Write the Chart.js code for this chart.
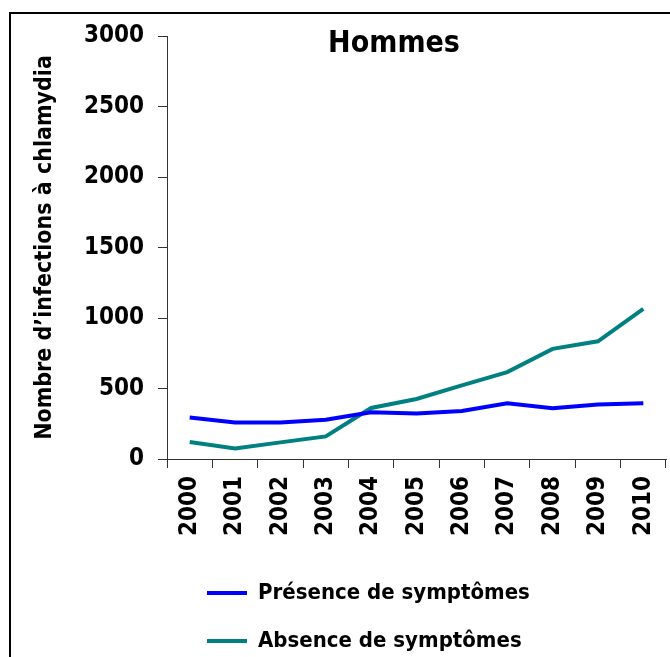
<!DOCTYPE html>
<html>
<head>
<meta charset="utf-8">
<script src="https://cdn.jsdelivr.net/npm/chart.js@4/dist/chart.umd.min.js"></script>
<style>
  html, body { margin: 0; padding: 0; background: #fff; }
  #wrap { width: 670px; height: 657px; }
</style>
</head>
<body>
<div id="wrap"><canvas id="chart" width="670" height="657"></canvas></div>
<script>
// Données
const years = ['2000', '2001', '2002', '2003', '2004', '2005', '2006', '2007', '2008', '2009', '2010'];
const presence = [294, 259, 259, 278, 332, 322, 341, 395, 360, 386, 395];
const absence = [120, 75, 118, 160, 362, 426, 522, 616, 781, 835, 1064];
const seriesNames = ['Présence de symptômes', 'Absence de symptômes'];
const seriesColors = ['#0000ff', '#008080'];
const chartTitle = 'Hommes';
const yTitle = 'Nombre d’infections à chlamydia';
const yMax = 3000;
const yStep = 500;

const FONT = "'DejaVu Sans Condensed', 'Liberation Sans Narrow', sans-serif";

// cadre noir + placement du titre et de la légende
const framePlugin = {
    id: 'frame',
    afterLayout(chart) {
        chart.titleBlock.left = 122;
        chart.legend.left = 181;
        chart.legend.top = 556;
    },
    afterDraw(chart) {
        const ctx = chart.ctx;
        ctx.save();
        ctx.strokeStyle = '#000';
        ctx.lineWidth = 2;
        ctx.beginPath();
        ctx.moveTo(10, 657);
        ctx.lineTo(10, 13);
        ctx.lineTo(670, 13);
        ctx.stroke();
        ctx.restore();
    }
};

const ctx = document.getElementById('chart').getContext('2d');
new Chart(ctx, {
    type: 'line',
    data: {
        labels: years,
        datasets: [
            { label: seriesNames[0], data: presence, borderColor: seriesColors[0], backgroundColor: seriesColors[0], borderWidth: 4 },
            { label: seriesNames[1], data: absence, borderColor: seriesColors[1], backgroundColor: seriesColors[1], borderWidth: 4 }
        ]
    },
    options: {
        responsive: false,
        animation: false,
        devicePixelRatio: 1,
        elements: {
            line: { tension: 0 },
            point: { radius: 0 }
        },
        layout: { padding: { left: 10, right: 4, top: 0, bottom: 0 } },
        scales: {
            x: {
                offset: true,
                grid: { offset: true, drawOnChartArea: false, drawTicks: true, tickLength: 9, color: '#333' },
                border: { display: true, color: '#333', width: 1 },
                ticks: {
                    minRotation: 90, maxRotation: 90, padding: 8, color: '#000',
                    font: { family: FONT, size: 24, weight: 'bold' }
                },
                afterFit: scale => {
                    scale.height = 92;
                    scale.paddingLeft = 0;
                    scale.paddingRight = 0;
                }
            },
            y: {
                min: 0,
                max: yMax,
                grid: { drawOnChartArea: false, drawTicks: true, tickLength: 9, color: '#333' },
                border: { display: true, color: '#333', width: 1 },
                ticks: {
                    stepSize: yStep, padding: 14, color: '#000',
                    callback: value => String(value),
                    font: { family: FONT, size: 24, weight: 'bold' }
                },
                title: {
                    display: true, text: yTitle, color: '#000',
                    padding: { top: 21, bottom: 0 },
                    font: { family: FONT, size: 23, weight: 'bold', lineHeight: 1.2 }
                },
                afterFit: scale => { scale.width = 157; }
            }
        },
        plugins: {
            title: {
                display: true, text: chartTitle, color: '#000',
                padding: { top: 29, bottom: -23 },
                font: { family: FONT, size: 30, weight: 'bold', lineHeight: 1 }
            },
            legend: {
                position: 'bottom',
                align: 'start',
                labels: {
                    usePointStyle: true,
                    pointStyle: 'line',
                    boxWidth: 38,
                    pointStyleWidth: 40,
                    boxHeight: 22,
                    padding: 26,
                    color: '#000',
                    font: { family: FONT, size: 22, weight: 'bold' }
                }
            },
            tooltip: { enabled: false }
        }
    },
    plugins: [framePlugin]
});
</script>
</body>
</html>
